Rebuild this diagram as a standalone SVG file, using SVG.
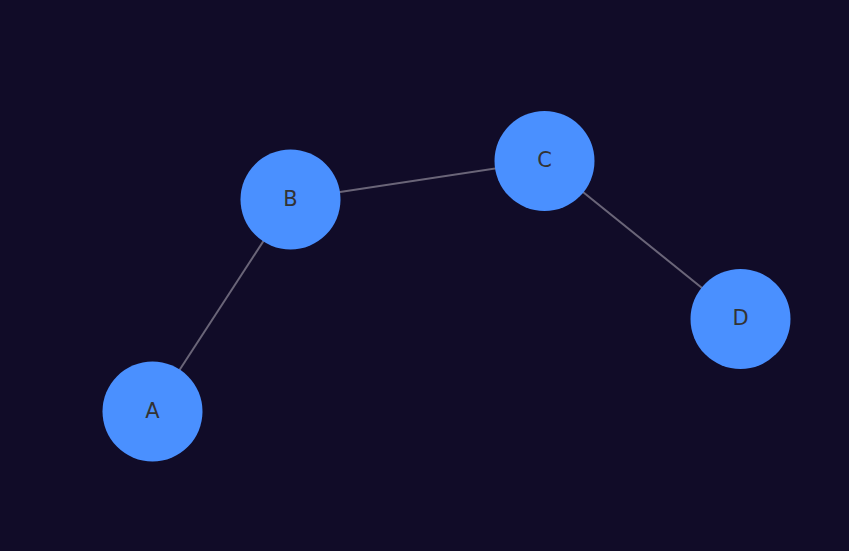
<svg xmlns="http://www.w3.org/2000/svg" width="849" height="551" viewBox="0 0 849 551">
  <style>
    .node circle { fill: #4a90ff; }
    .node text { font-family: "DejaVu Sans", "Noto Sans", sans-serif; font-size: 21px; fill: #333333; text-anchor: middle; dominant-baseline: central; }
    .edge { stroke: #6a6578; stroke-width: 2; fill: none; }
  </style>
  <rect width="849" height="551" fill="#110c28"/>
  <g id="connectors">
    <line class="edge" x1="152.5" y1="411.5" x2="290.5" y2="199.5"/>
    <line class="edge" x1="290.5" y1="199.5" x2="544.5" y2="161"/>
    <line class="edge" x1="544.5" y1="161" x2="740.5" y2="319"/>
  </g>
  <g id="node-A" class="node">
    <circle cx="152.5" cy="411.5" r="50"/>
    <text x="152.5" y="410.5">A</text>
  </g>
  <g id="node-B" class="node">
    <circle cx="290.5" cy="199.5" r="50"/>
    <text x="290.5" y="198.5">B</text>
  </g>
  <g id="node-C" class="node">
    <circle cx="544.5" cy="161" r="50"/>
    <text x="544.5" y="160">C</text>
  </g>
  <g id="node-D" class="node">
    <circle cx="740.5" cy="319" r="50"/>
    <text x="740.5" y="318">D</text>
  </g>
</svg>
